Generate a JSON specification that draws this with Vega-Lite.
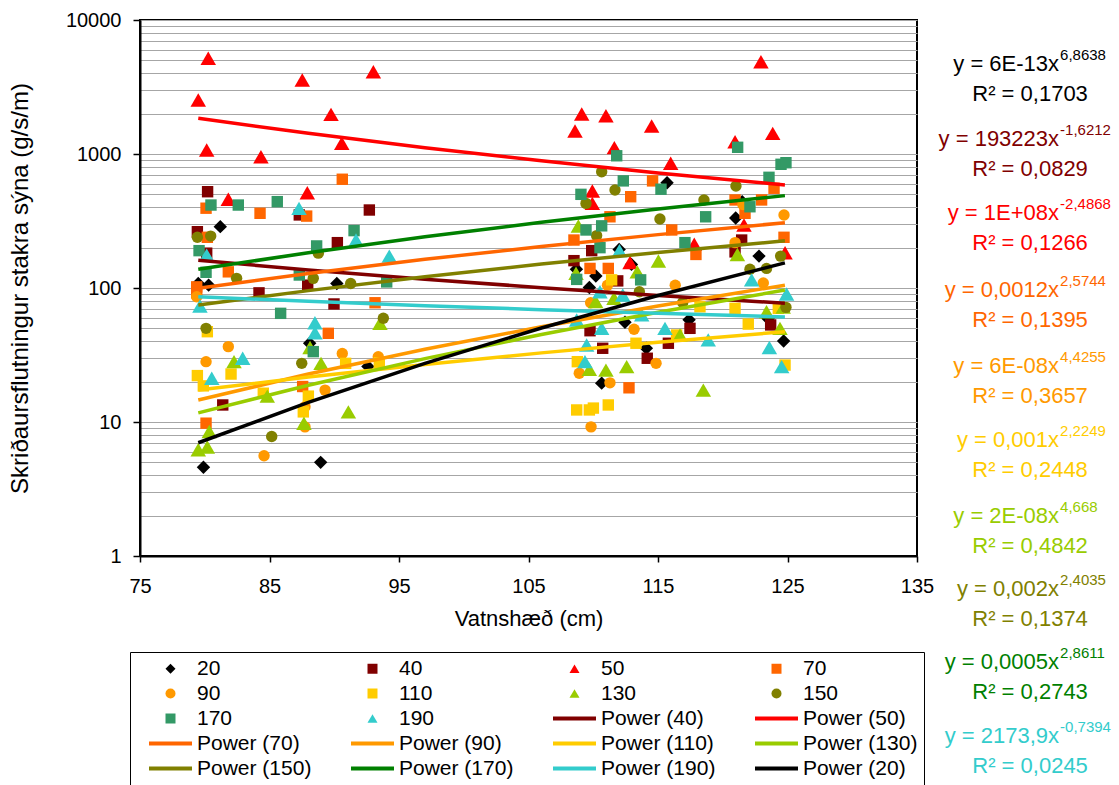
{
  "$schema": "https://vega.github.io/schema/vega-lite/v6.json",
  "width": 777,
  "height": 536,
  "autosize": {"type": "none"},
  "padding": {"left": 140, "top": 20, "right": 202, "bottom": 229},
  "background": "white",
  "config": {
    "font": "Liberation Sans",
    "view": {"stroke": "black", "strokeWidth": 2},
    "axis": {"labelColor": "black", "titleColor": "black", "titleFontWeight": "normal", "domainColor": "black", "tickColor": "black"},
    "legend": {"orient": "none", "legendX": -10, "legendY": 632, "columns": 4, "direction": "horizontal", "title": null, "strokeColor": "black", "padding": 6,
      "symbolSize": 100, "symbolOffset": 24, "labelOffset": 16, "labelFontSize": 21, "labelColor": "black", "rowPadding": 3, "columnPadding": 26,
      "gridAlign": "all", "labelLimit": 400, "symbolLimit": 40}
  },
  "datasets": {
    "pts": [
      {"s": "20", "x": 79.5, "y": 108}, {"s": "20", "x": 80.3, "y": 105}, {"s": "20", "x": 81.2, "y": 287}, {"s": "20", "x": 79.9, "y": 4.6},
      {"s": "20", "x": 88.1, "y": 38.7}, {"s": "20", "x": 88.95, "y": 5.0}, {"s": "20", "x": 90.2, "y": 108}, {"s": "20", "x": 92.6, "y": 26},
      {"s": "20", "x": 108.7, "y": 138}, {"s": "20", "x": 109.7, "y": 101}, {"s": "20", "x": 110.2, "y": 123}, {"s": "20", "x": 110.65, "y": 19.5},
      {"s": "20", "x": 112.0, "y": 194}, {"s": "20", "x": 112.45, "y": 55.5}, {"s": "20", "x": 112.95, "y": 150}, {"s": "20", "x": 114.1, "y": 35.5},
      {"s": "20", "x": 115.7, "y": 611}, {"s": "20", "x": 117.4, "y": 58}, {"s": "20", "x": 121.0, "y": 333}, {"s": "20", "x": 121.5, "y": 441},
      {"s": "20", "x": 122.8, "y": 173}, {"s": "20", "x": 123.5, "y": 59}, {"s": "20", "x": 124.7, "y": 40.2},
      {"s": "40", "x": 80.22, "y": 523}, {"s": "40", "x": 92.71, "y": 382}, {"s": "40", "x": 79.43, "y": 263}, {"s": "40", "x": 90.24, "y": 218},
      {"s": "40", "x": 80.15, "y": 182}, {"s": "40", "x": 87.3, "y": 351}, {"s": "40", "x": 87.95, "y": 105}, {"s": "40", "x": 84.19, "y": 92},
      {"s": "40", "x": 89.98, "y": 76}, {"s": "40", "x": 81.39, "y": 13.4}, {"s": "40", "x": 108.51, "y": 160}, {"s": "40", "x": 109.88, "y": 190},
      {"s": "40", "x": 111.89, "y": 113}, {"s": "40", "x": 109.75, "y": 48}, {"s": "40", "x": 110.73, "y": 35.5}, {"s": "40", "x": 115.8, "y": 38.7},
      {"s": "40", "x": 114.17, "y": 29.9}, {"s": "40", "x": 117.47, "y": 50}, {"s": "40", "x": 121.46, "y": 228}, {"s": "40", "x": 120.95, "y": 186},
      {"s": "40", "x": 123.7, "y": 53},
      {"s": "50", "x": 80.27, "y": 5178}, {"s": "50", "x": 79.5, "y": 2530}, {"s": "50", "x": 87.53, "y": 3567}, {"s": "50", "x": 93.02, "y": 4113},
      {"s": "50", "x": 89.75, "y": 1977}, {"s": "50", "x": 90.58, "y": 1202}, {"s": "50", "x": 80.15, "y": 1072}, {"s": "50", "x": 84.34, "y": 955},
      {"s": "50", "x": 87.92, "y": 514}, {"s": "50", "x": 81.82, "y": 459}, {"s": "50", "x": 122.95, "y": 4887}, {"s": "50", "x": 114.51, "y": 1618},
      {"s": "50", "x": 123.86, "y": 1426}, {"s": "50", "x": 120.95, "y": 1235}, {"s": "50", "x": 115.98, "y": 853}, {"s": "50", "x": 121.64, "y": 295},
      {"s": "50", "x": 117.8, "y": 212}, {"s": "50", "x": 124.81, "y": 183}, {"s": "50", "x": 109.11, "y": 1988}, {"s": "50", "x": 110.98, "y": 1931},
      {"s": "50", "x": 108.59, "y": 1486}, {"s": "50", "x": 111.63, "y": 1115}, {"s": "50", "x": 109.93, "y": 530}, {"s": "50", "x": 109.93, "y": 428},
      {"s": "50", "x": 112.84, "y": 155},
      {"s": "70", "x": 90.62, "y": 648}, {"s": "70", "x": 80.1, "y": 394}, {"s": "70", "x": 84.27, "y": 361}, {"s": "70", "x": 87.87, "y": 344},
      {"s": "70", "x": 80.2, "y": 239}, {"s": "70", "x": 81.82, "y": 132}, {"s": "70", "x": 79.38, "y": 102}, {"s": "70", "x": 79.38, "y": 92},
      {"s": "70", "x": 93.15, "y": 77.6}, {"s": "70", "x": 89.54, "y": 45.9}, {"s": "70", "x": 87.56, "y": 18.4}, {"s": "70", "x": 80.1, "y": 9.8},
      {"s": "70", "x": 114.58, "y": 630}, {"s": "70", "x": 112.89, "y": 480}, {"s": "70", "x": 120.95, "y": 454}, {"s": "70", "x": 123.0, "y": 454},
      {"s": "70", "x": 123.96, "y": 555}, {"s": "70", "x": 121.72, "y": 361}, {"s": "70", "x": 116.06, "y": 271}, {"s": "70", "x": 117.93, "y": 178},
      {"s": "70", "x": 124.73, "y": 239}, {"s": "70", "x": 111.29, "y": 340}, {"s": "70", "x": 108.51, "y": 228}, {"s": "70", "x": 109.75, "y": 140},
      {"s": "70", "x": 111.16, "y": 140}, {"s": "70", "x": 112.76, "y": 18},
      {"s": "90", "x": 81.82, "y": 36.5}, {"s": "90", "x": 80.1, "y": 28.2}, {"s": "90", "x": 90.62, "y": 32.5}, {"s": "90", "x": 93.4, "y": 30.7},
      {"s": "90", "x": 89.29, "y": 17.3}, {"s": "90", "x": 87.74, "y": 9.2}, {"s": "90", "x": 84.58, "y": 5.6}, {"s": "90", "x": 79.38, "y": 86},
      {"s": "90", "x": 87.74, "y": 13}, {"s": "90", "x": 124.73, "y": 351}, {"s": "90", "x": 120.95, "y": 218}, {"s": "90", "x": 116.33, "y": 105},
      {"s": "90", "x": 111.1, "y": 105}, {"s": "90", "x": 109.8, "y": 77.6}, {"s": "90", "x": 113.15, "y": 49.2}, {"s": "90", "x": 123.13, "y": 109},
      {"s": "90", "x": 121.56, "y": 420}, {"s": "90", "x": 114.85, "y": 27.4}, {"s": "90", "x": 111.29, "y": 19.6}, {"s": "90", "x": 108.92, "y": 23.1},
      {"s": "90", "x": 109.83, "y": 9.2},
      {"s": "110", "x": 80.2, "y": 47.2}, {"s": "110", "x": 79.43, "y": 22.2}, {"s": "110", "x": 82.03, "y": 22.8}, {"s": "110", "x": 79.89, "y": 18.6},
      {"s": "110", "x": 84.52, "y": 16.4}, {"s": "110", "x": 88.0, "y": 15.6}, {"s": "110", "x": 87.61, "y": 11.9}, {"s": "110", "x": 90.88, "y": 27.4},
      {"s": "110", "x": 93.48, "y": 27.7}, {"s": "110", "x": 108.72, "y": 12.3}, {"s": "110", "x": 109.7, "y": 12.3}, {"s": "110", "x": 110.01, "y": 12.7},
      {"s": "110", "x": 111.16, "y": 13.4}, {"s": "110", "x": 108.77, "y": 28.2}, {"s": "110", "x": 113.3, "y": 38.7}, {"s": "110", "x": 116.44, "y": 44.6},
      {"s": "110", "x": 124.81, "y": 26.6}, {"s": "110", "x": 120.95, "y": 70.5}, {"s": "110", "x": 121.97, "y": 53.8}, {"s": "110", "x": 124.29, "y": 70.5},
      {"s": "110", "x": 118.24, "y": 72.4}, {"s": "110", "x": 111.42, "y": 115},
      {"s": "130", "x": 79.5, "y": 6.2}, {"s": "130", "x": 80.2, "y": 6.5}, {"s": "130", "x": 80.35, "y": 8.5}, {"s": "130", "x": 82.26, "y": 28.2},
      {"s": "130", "x": 84.83, "y": 15.6}, {"s": "130", "x": 87.66, "y": 9.8}, {"s": "130", "x": 88.98, "y": 27.4}, {"s": "130", "x": 91.09, "y": 11.9},
      {"s": "130", "x": 88.13, "y": 36}, {"s": "130", "x": 93.53, "y": 54.5}, {"s": "130", "x": 108.85, "y": 290}, {"s": "130", "x": 108.67, "y": 129},
      {"s": "130", "x": 110.19, "y": 79.1}, {"s": "130", "x": 113.4, "y": 132}, {"s": "130", "x": 115.03, "y": 159}, {"s": "130", "x": 111.6, "y": 83.8},
      {"s": "130", "x": 121.13, "y": 178}, {"s": "130", "x": 116.7, "y": 44.6}, {"s": "130", "x": 123.38, "y": 66.5}, {"s": "130", "x": 124.42, "y": 50},
      {"s": "130", "x": 109.7, "y": 24.7}, {"s": "130", "x": 110.98, "y": 24.4}, {"s": "130", "x": 112.58, "y": 25.9}, {"s": "130", "x": 118.5, "y": 17.3},
      {"s": "130", "x": 124.67, "y": 72},
      {"s": "150", "x": 79.43, "y": 239}, {"s": "150", "x": 80.46, "y": 244}, {"s": "150", "x": 82.46, "y": 118}, {"s": "150", "x": 88.38, "y": 118},
      {"s": "150", "x": 91.27, "y": 108}, {"s": "150", "x": 88.77, "y": 182}, {"s": "150", "x": 80.1, "y": 50}, {"s": "150", "x": 87.49, "y": 27.4},
      {"s": "150", "x": 85.17, "y": 7.8}, {"s": "150", "x": 93.79, "y": 59.4}, {"s": "150", "x": 121.02, "y": 577}, {"s": "150", "x": 118.55, "y": 454},
      {"s": "150", "x": 115.15, "y": 327}, {"s": "150", "x": 110.65, "y": 738}, {"s": "150", "x": 109.44, "y": 428}, {"s": "150", "x": 111.68, "y": 538},
      {"s": "150", "x": 110.26, "y": 246}, {"s": "150", "x": 113.56, "y": 93.8}, {"s": "150", "x": 124.47, "y": 173}, {"s": "150", "x": 124.88, "y": 71.7},
      {"s": "150", "x": 122.1, "y": 138}, {"s": "150", "x": 123.38, "y": 140}, {"s": "150", "x": 116.91, "y": 78},
      {"s": "170", "x": 80.48, "y": 416}, {"s": "170", "x": 82.59, "y": 416}, {"s": "170", "x": 85.6, "y": 441}, {"s": "170", "x": 91.53, "y": 268},
      {"s": "170", "x": 88.64, "y": 206}, {"s": "170", "x": 79.56, "y": 190}, {"s": "170", "x": 80.1, "y": 131}, {"s": "170", "x": 87.3, "y": 125},
      {"s": "170", "x": 94.05, "y": 111}, {"s": "170", "x": 85.86, "y": 64.7}, {"s": "170", "x": 88.38, "y": 33.5}, {"s": "170", "x": 111.81, "y": 970},
      {"s": "170", "x": 121.15, "y": 1122}, {"s": "170", "x": 124.5, "y": 838}, {"s": "170", "x": 124.88, "y": 861}, {"s": "170", "x": 123.57, "y": 670},
      {"s": "170", "x": 112.32, "y": 630}, {"s": "170", "x": 115.23, "y": 546}, {"s": "170", "x": 122.1, "y": 404}, {"s": "170", "x": 118.68, "y": 340},
      {"s": "170", "x": 117.08, "y": 218}, {"s": "170", "x": 109.05, "y": 500}, {"s": "170", "x": 109.44, "y": 271}, {"s": "170", "x": 110.65, "y": 291},
      {"s": "170", "x": 110.52, "y": 200}, {"s": "170", "x": 108.72, "y": 116}, {"s": "170", "x": 113.66, "y": 115},
      {"s": "190", "x": 87.28, "y": 393}, {"s": "190", "x": 91.68, "y": 228}, {"s": "190", "x": 80.15, "y": 176}, {"s": "190", "x": 94.25, "y": 173},
      {"s": "190", "x": 79.63, "y": 73.5}, {"s": "190", "x": 88.51, "y": 55.1}, {"s": "190", "x": 88.51, "y": 46.3}, {"s": "190", "x": 82.93, "y": 29.9},
      {"s": "190", "x": 80.54, "y": 21.2}, {"s": "190", "x": 112.02, "y": 190}, {"s": "190", "x": 110.52, "y": 93.8}, {"s": "190", "x": 112.28, "y": 88.7},
      {"s": "190", "x": 113.74, "y": 63}, {"s": "190", "x": 115.54, "y": 50}, {"s": "190", "x": 122.23, "y": 115}, {"s": "190", "x": 124.93, "y": 90.2},
      {"s": "190", "x": 110.65, "y": 50}, {"s": "190", "x": 108.72, "y": 57.7}, {"s": "190", "x": 109.49, "y": 37.6}, {"s": "190", "x": 118.88, "y": 41},
      {"s": "190", "x": 123.6, "y": 36}, {"s": "190", "x": 109.36, "y": 28.2}, {"s": "190", "x": 124.55, "y": 25.9}
    ],
    "lines": [
      {"s": "Power (40)", "x": 79.5, "y": 161}, {"s": "Power (40)", "x": 88, "y": 136.3}, {"s": "Power (40)", "x": 97, "y": 116.3}, {"s": "Power (40)", "x": 106, "y": 100.6}, {"s": "Power (40)", "x": 115, "y": 88.0}, {"s": "Power (40)", "x": 124.8, "y": 77},
      {"s": "Power (50)", "x": 79.5, "y": 1845}, {"s": "Power (50)", "x": 88, "y": 1426}, {"s": "Power (50)", "x": 97, "y": 1113}, {"s": "Power (50)", "x": 106, "y": 889}, {"s": "Power (50)", "x": 115, "y": 722}, {"s": "Power (50)", "x": 124.8, "y": 587},
      {"s": "Power (70)", "x": 79.5, "y": 99.5}, {"s": "Power (70)", "x": 88, "y": 128.2}, {"s": "Power (70)", "x": 97, "y": 163.6}, {"s": "Power (70)", "x": 106, "y": 204.1}, {"s": "Power (70)", "x": 115, "y": 250.2}, {"s": "Power (70)", "x": 124.8, "y": 307},
      {"s": "Power (90)", "x": 79.5, "y": 14.6}, {"s": "Power (90)", "x": 88, "y": 22.8}, {"s": "Power (90)", "x": 97, "y": 34.9}, {"s": "Power (90)", "x": 106, "y": 51.4}, {"s": "Power (90)", "x": 115, "y": 73.4}, {"s": "Power (90)", "x": 124.8, "y": 105},
      {"s": "Power (110)", "x": 79.5, "y": 17.3}, {"s": "Power (110)", "x": 88, "y": 21.7}, {"s": "Power (110)", "x": 97, "y": 26.9}, {"s": "Power (110)", "x": 106, "y": 32.8}, {"s": "Power (110)", "x": 115, "y": 39.3}, {"s": "Power (110)", "x": 124.8, "y": 47.2},
      {"s": "Power (130)", "x": 79.5, "y": 11.7}, {"s": "Power (130)", "x": 88, "y": 18.8}, {"s": "Power (130)", "x": 97, "y": 29.7}, {"s": "Power (130)", "x": 106, "y": 45.0}, {"s": "Power (130)", "x": 115, "y": 65.9}, {"s": "Power (130)", "x": 124.8, "y": 96.6},
      {"s": "Power (150)", "x": 79.5, "y": 74.6}, {"s": "Power (150)", "x": 88, "y": 95.6}, {"s": "Power (150)", "x": 97, "y": 121.4}, {"s": "Power (150)", "x": 106, "y": 150.8}, {"s": "Power (150)", "x": 115, "y": 184.1}, {"s": "Power (150)", "x": 124.8, "y": 225},
      {"s": "Power (170)", "x": 79.5, "y": 138}, {"s": "Power (170)", "x": 88, "y": 183.5}, {"s": "Power (170)", "x": 97, "y": 241.2}, {"s": "Power (170)", "x": 106, "y": 309.3}, {"s": "Power (170)", "x": 115, "y": 388.8}, {"s": "Power (170)", "x": 124.8, "y": 489},
      {"s": "Power (190)", "x": 79.5, "y": 86}, {"s": "Power (190)", "x": 88, "y": 79.5}, {"s": "Power (190)", "x": 97, "y": 73.8}, {"s": "Power (190)", "x": 106, "y": 68.9}, {"s": "Power (190)", "x": 115, "y": 64.7}, {"s": "Power (190)", "x": 124.8, "y": 60.8},
      {"s": "Power (20)", "x": 79.5, "y": 7.0}, {"s": "Power (20)", "x": 88, "y": 14.0}, {"s": "Power (20)", "x": 97, "y": 27.4}, {"s": "Power (20)", "x": 106, "y": 50.3}, {"s": "Power (20)", "x": 115, "y": 87.9}, {"s": "Power (20)", "x": 124.8, "y": 154}
    ],
    "eqs": [
      {"s": "Power (20)", "eq": "y = 6E-13x", "ex": "6,8638", "r2": "R² = 0,1703", "v": 3628},
      {"s": "Power (40)", "eq": "y = 193223x", "ex": "-1,6212", "r2": "R² = 0,0829", "v": 1000},
      {"s": "Power (50)", "eq": "y = 1E+08x", "ex": "-2,4868", "r2": "R² = 0,1266", "v": 282.8},
      {"s": "Power (70)", "eq": "y = 0,0012x", "ex": "2,5744", "r2": "R² = 0,1395", "v": 74.7},
      {"s": "Power (90)", "eq": "y = 6E-08x", "ex": "4,4255", "r2": "R² = 0,3657", "v": 20.2},
      {"s": "Power (110)", "eq": "y = 0,001x", "ex": "2,2249", "r2": "R² = 0,2448", "v": 5.67},
      {"s": "Power (130)", "eq": "y = 2E-08x", "ex": "4,668", "r2": "R² = 0,4842", "v": 1.537},
      {"s": "Power (150)", "eq": "y = 0,002x", "ex": "2,4035", "r2": "R² = 0,1374", "v": 0.4384},
      {"s": "Power (170)", "eq": "y = 0,0005x", "ex": "2,8611", "r2": "R² = 0,2743", "v": 0.124},
      {"s": "Power (190)", "eq": "y = 2173,9x", "ex": "-0,7394", "r2": "R² = 0,0245", "v": 0.03506}
    ]
  },
  "layer": [
    {
      "data": {"name": "pts"},
      "mark": {"type": "point", "filled": true, "opacity": 1, "strokeWidth": 0},
      "encoding": {
        "x": {"field": "x", "type": "quantitative", "scale": {"domain": [75, 135], "nice": false, "zero": false},
          "axis": {"orient": "bottom", "title": "Vatnshæð (cm)", "values": [75, 85, 95, 105, 115, 125, 135], "grid": false, "labelFontSize": 20, "titleFontSize": 22, "tickSize": 6, "tickWidth": 1.5, "domainWidth": 2, "labelPadding": 14, "titlePadding": 12, "labelFlush": false}},
        "y": {"field": "y", "type": "quantitative", "scale": {"type": "log", "domain": [1, 10000], "nice": false},
          "axis": {"orient": "left", "title": "Skriðaursflutningur stakra sýna (g/s/m)",
            "values": [1,2,3,4,5,6,7,8,9,10,20,30,40,50,60,70,80,90,100,200,300,400,500,600,700,800,900,1000,2000,3000,4000,5000,6000,7000,8000,9000,10000],
            "labelExpr": "indexof([1,10,100,1000,10000], datum.value) >= 0 ? format(datum.value, 'd') : ''",
            "labelOverlap": false, "labelFlush": false,
            "grid": true, "gridColor": "#a6a6a6", "gridWidth": 1,
            "tickOpacity": {"condition": {"test": "indexof([1,10,100,1000,10000], datum.value) >= 0", "value": 1}, "value": 0},
            "tickSize": 7, "tickWidth": 1.5, "domainWidth": 2, "labelPadding": 12, "labelFontSize": 20,
            "titleFontSize": 24, "titleX": -120, "titleY": 268, "titleBaseline": "middle", "titleAlign": "center", "titleAngle": -90}},
        "color": {"field": "s", "type": "nominal",
          "scale": {"domain": ["20","40","50","70","90","110","130","150","170","190","Power (40)","Power (50)","Power (70)","Power (90)","Power (110)","Power (130)","Power (150)","Power (170)","Power (190)","Power (20)"],
                    "range": ["#000000","#800000","#FF0000","#FF6600","#FF9900","#FFCC00","#99CC00","#808000","#339966","#33CCCC","#800000","#FF0000","#FF6600","#FF9900","#FFCC00","#99CC00","#808000","#008000","#33CCCC","#000000"]},
          "legend": {"encode": {"symbols": {"update": {"fill": {"scale": "color", "field": "value"}, "stroke": {"scale": "color", "field": "value"},
              "strokeWidth": {"signal": "indexof('' + datum.value, 'Power') === 0 ? 4 : 0"}, "shape": {"scale": "shape", "field": "value"}, "opacity": {"value": 1}}}}}},
        "shape": {"field": "s", "type": "nominal",
          "scale": {"domain": ["20","40","50","70","90","110","130","150","170","190","Power (40)","Power (50)","Power (70)","Power (90)","Power (110)","Power (130)","Power (150)","Power (170)","Power (190)","Power (20)"],
                    "range": ["diamond","square","triangle-up","square","circle","square","triangle-up","circle","square","triangle-up","M-4.3,0H4.3","M-4.3,0H4.3","M-4.3,0H4.3","M-4.3,0H4.3","M-4.3,0H4.3","M-4.3,0H4.3","M-4.3,0H4.3","M-4.3,0H4.3","M-4.3,0H4.3","M-4.3,0H4.3"]},
          "legend": {"encode": {"symbols": {"update": {"fill": {"scale": "color", "field": "value"}, "stroke": {"scale": "color", "field": "value"},
              "strokeWidth": {"signal": "indexof('' + datum.value, 'Power') === 0 ? 4 : 0"}, "shape": {"scale": "shape", "field": "value"}, "opacity": {"value": 1}}}}}},
        "size": {"field": "s", "type": "nominal", "legend": null,
          "scale": {"type": "ordinal", "domain": ["20","40","50","70","90","110","130","150","170","190"], "range": [180,130,240,130,130,130,240,130,130,240]}}
      }
    },
    {
      "data": {"name": "lines"},
      "mark": {"type": "line", "strokeWidth": 3.5},
      "encoding": {
        "x": {"field": "x", "type": "quantitative"},
        "y": {"field": "y", "type": "quantitative"},
        "color": {"field": "s", "type": "nominal",
          "legend": {"encode": {"symbols": {"update": {"fill": {"scale": "color", "field": "value"}, "stroke": {"scale": "color", "field": "value"},
              "strokeWidth": {"signal": "indexof('' + datum.value, 'Power') === 0 ? 4 : 0"}, "shape": {"scale": "shape", "field": "value"}, "opacity": {"value": 1}}}}}}
      }
    },
    {
      "data": {"name": "eqs"},
      "mark": {"type": "text", "align": "right", "baseline": "middle", "fontSize": 22, "dy": -15},
      "encoding": {
        "x": {"datum": 145.97, "type": "quantitative"},
        "y": {"field": "v", "type": "quantitative"},
        "text": {"field": "eq"},
        "color": {"field": "s", "type": "nominal", "legend": null}
      }
    },
    {
      "data": {"name": "eqs"},
      "mark": {"type": "text", "align": "left", "baseline": "middle", "fontSize": 15, "dy": -24, "dx": 1},
      "encoding": {
        "x": {"datum": 145.97, "type": "quantitative"},
        "y": {"field": "v", "type": "quantitative"},
        "text": {"field": "ex"},
        "color": {"field": "s", "type": "nominal", "legend": null}
      }
    },
    {
      "data": {"name": "eqs"},
      "mark": {"type": "text", "align": "center", "baseline": "middle", "fontSize": 22, "dy": 15},
      "encoding": {
        "x": {"datum": 143.73, "type": "quantitative"},
        "y": {"field": "v", "type": "quantitative"},
        "text": {"field": "r2"},
        "color": {"field": "s", "type": "nominal", "legend": null}
      }
    }
  ]
}
